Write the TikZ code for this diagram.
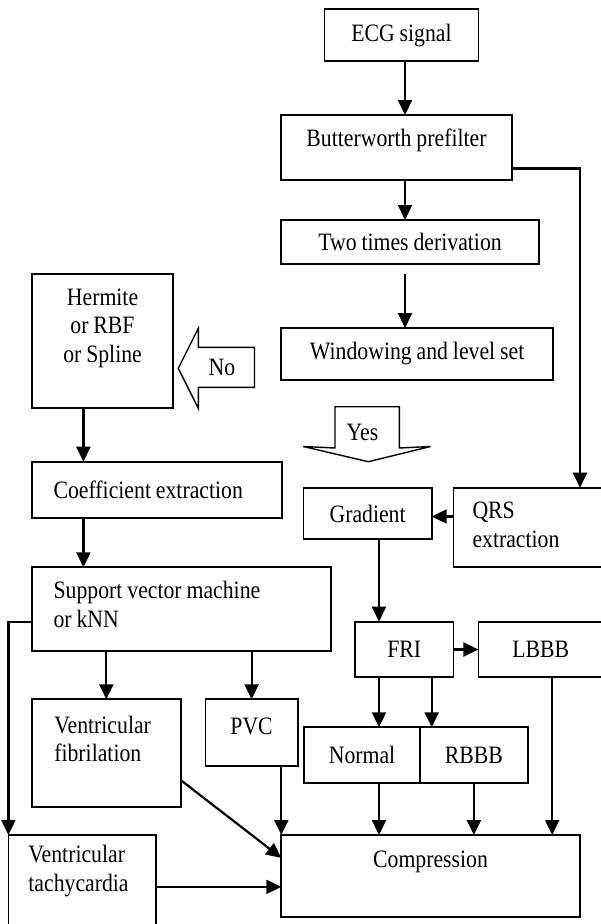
\documentclass[tikz,border=0pt]{standalone}
\usepackage{fontspec}
\setmainfont{Liberation Serif}[FakeStretch=0.87, WordSpace=0.9]
\usetikzlibrary{arrows.meta}

\newcommand{\liftby}[2]{\raisebox{#1}[\height][\depth]{#2}}
\newcommand{\textlines}[2][l]{\begin{tabular}{@{}#1@{}}#2\end{tabular}}
\newcommand{\flushin}[2]{\makebox[#1][l]{#2}}

\tikzstyle{flowchart}=[%
	x=1pt, y=-1pt,
	font=\fontsize{25}{28.5}\selectfont,
	every path/.style = {%
		black,
		line width=1.8pt
	},%
	box/.style={%
		draw,
		inner sep=0pt,
		outer sep=0pt,
		anchor=north west
	},%
	dims/.style 2 args={%
		minimum width=##1,
		minimum height=##2
	},%
	conn/.style={%
		line width=2.2pt,
		-{Triangle[length=15pt,width=14pt]}
	},%
	hollow/.style={%
		line width=1.4pt,
		line join=miter
	}
]

\begin{document}
\begin{tikzpicture}[flowchart]
	\useasboundingbox (0,0) rectangle (600,924);
	\fill[white] (0,0) rectangle (600,924);

	% main column
	\node[box, dims={153.9pt}{52pt}] (ecg) at (324.5,9.3) {ECG signal};
	\node[box, dims={230.4pt}{65pt}] (butter) at (281.3,115) {\liftby{7.5pt}{Butterworth prefilter}};
	\node[box, dims={257.5pt}{44.3pt}] (twice) at (281.3,220) {Two times derivation};
	\node[box, dims={271.7pt}{52pt}] (window) at (281.3,328) {Windowing and level set};

	% left column
	\node[box, dims={140.9pt}{134.3pt}] (hermite) at (32.1,274) {\liftby{13pt}{\textlines[c]{Hermite\\or RBF\\or Spline}}};
	\node[box, dims={250pt}{56.6pt}] (coeff) at (32,461.7) {\flushin{206.8pt}{Coefficient extraction}};
	\node[box, dims={299pt}{83.7pt}] (svm) at (32,567.3) {\flushin{255.8pt}{\liftby{2pt}{\textlines{Support vector machine\\or kNN}}}};
	\node[box, dims={148.6pt}{107.4pt}] (vfib) at (32,699.3) {\flushin{104pt}{\liftby{11pt}{\textlines{Ventricular\\fibrilation}}}};
	\node[box, dims={92.2pt}{66.7pt}] (pvc) at (205.5,699.3) {\liftby{6pt}{PVC}};
	\node[box, dims={147.6pt}{105pt}] (vtachy) at (8.4,835) {\flushin{107.6pt}{\liftby{16pt}{\textlines{Ventricular\\tachycardia}}}};

	% right column
	\node[box, dims={128.2pt}{51.6pt}] (grad) at (303.5,487.7) {Gradient};
	\node[box, dims={149.5pt}{79.6pt}] (qrs) at (453.5,487.7) {\flushin{111.5pt}{\textlines{QRS\\extraction}}};
	\node[box, dims={98.5pt}{55.6pt}] (fri) at (355,621.7) {FRI};
	\node[box, dims={124.6pt}{55.6pt}] (lbbb) at (478.4,621.7) {LBBB};
	\node[box, dims={115.5pt}{55.4pt}] (normal) at (304.3,727.3) {Normal};
	\node[box, dims={108.2pt}{55.4pt}] (rbbb) at (419.8,727.3) {RBBB};
	\node[box, dims={298.5pt}{81.7pt}] (comp) at (281.3,835) {\liftby{14pt}{Compression}};

	% block arrows
	\draw[hollow] (254.5,347.3) -- (198.3,347.3) -- (198.3,328.3) -- (178.3,368.3)
		-- (198.3,408.3) -- (198.3,387.3) -- (254.5,387.3) -- cycle;
	\node[inner sep=0pt] (no) at (222,367) {No};
	\draw[hollow] (335,406.7) -- (399.3,406.7) -- (399.3,448) -- (430.5,446.5)
		-- (368.3,461.7) -- (303.3,446.5) -- (335,448) -- cycle;
	\node[inner sep=0pt] (yes) at (362.5,432) {Yes};

	% connectors
	\coordinate (spine) at (405,0);
	\coordinate (lspine) at (83.4,0);
	\coordinate (rspine) at (379,0);
	\coordinate (qrsin) at (580,0);
	\coordinate (rbin) at (431.7,0);
	\coordinate (lbout) at (552.2,0);
	\coordinate (gap) at ([yshift=-10pt]twice.south);
	\coordinate (gradin) at ([yshift=-3pt]grad.east);
	\coordinate (tin) at ([yshift=-11pt]comp.west);

	\draw[conn] (ecg.south -| spine) -- (butter.north -| spine);
	\draw[conn] (butter.south -| spine) -- (twice.north -| spine);
	\draw[conn] (gap -| spine) -- (window.north -| spine);
	\draw[conn] ([yshift=-21pt]butter.east) -| (qrs.north -| qrsin);
	\draw[conn] (hermite.south -| lspine) -- (coeff.north -| lspine);
	\draw[conn] (coeff.south -| lspine) -- (svm.north -| lspine);
	\draw[conn] (qrs.west |- gradin) -- (gradin);
	\draw[conn] (grad.south -| rspine) -- (fri.north -| rspine);
	\draw[conn] (fri.east) -- (lbbb.west);
	\draw[conn] (fri.south -| rspine) -- (normal.north -| rspine);
	\draw[conn] (fri.south -| rbin) -- (rbbb.north -| rbin);
	\draw[conn] (normal.south -| rspine) -- (comp.north -| rspine);
	\draw[conn] (rbbb.south) -- (rbbb.south |- comp.north);
	\draw[conn] (lbbb.south -| lbout) -- (comp.north -| lbout);
	\draw[conn] (vfib.north |- svm.south) -- (vfib.north);
	\draw[conn] (pvc.north |- svm.south) -- (pvc.north);
	\draw[conn] (comp.north west |- pvc.south) -- (comp.north west);
	\draw[conn] ([yshift=-27pt]vfib.east) -- ([yshift=18pt]comp.west);
	\draw[conn] (vtachy.east |- tin) -- (tin);
	\draw[conn] ([yshift=-12.5pt]svm.west) -| (vtachy.north west);
\end{tikzpicture}
\end{document}
